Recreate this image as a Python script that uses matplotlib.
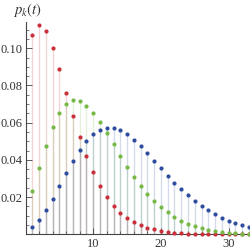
import numpy as np
import matplotlib
matplotlib.use("Agg")
import matplotlib.pyplot as plt
from matplotlib.ticker import MultipleLocator

plt.rcParams['mathtext.fontset'] = 'stix'

k = np.arange(1, 34)

p_red = [0.1070, 0.1123, 0.1091, 0.1003, 0.0889, 0.0762, 0.0638, 0.0523, 0.0421, 0.0332,
         0.0261, 0.0199, 0.0152, 0.0116, 0.0087, 0.0065, 0.0048, 0.0036, 0.0026, 0.0018,
         0.0012, 0.0009, 0.0006, 0.0004, 0.0003, 0.0002, 0.00015, 0.0001, 0.00007, 0.00005,
         0.00003, 0.00002, 0.00001]
p_green = [0.0233, 0.0358, 0.0476, 0.0575, 0.0652, 0.0700, 0.0720, 0.0717, 0.0691, 0.0652,
           0.0601, 0.0543, 0.0483, 0.0422, 0.0362, 0.0308, 0.0260, 0.0218, 0.0181, 0.0147,
           0.0119, 0.0094, 0.0072, 0.0056, 0.0042, 0.0032, 0.0023, 0.0016, 0.0012, 0.0009,
           0.0006, 0.0004, 0.0003]
p_blue = [0.0037, 0.0077, 0.0129, 0.0191, 0.0258, 0.0328, 0.0394, 0.0453, 0.0502, 0.0539,
          0.0562, 0.0573, 0.0571, 0.0559, 0.0539, 0.0509, 0.0476, 0.0437, 0.0396, 0.0356,
          0.0314, 0.0278, 0.0243, 0.0211, 0.0181, 0.0152, 0.0129, 0.0107, 0.0089, 0.0073,
          0.0061, 0.0050, 0.0041]

series = [(p_red, '#c9303a'), (p_green, '#76b947'), (p_blue, '#2e4d9e')]

fig = plt.figure(figsize=(2.5, 2.5), dpi=100)
ax = fig.add_axes([0.102, 0.063, 0.898, 0.849])

# stems first, points on top
for vals, col in series:
    ax.vlines(k, 0, vals, color=col, alpha=0.2, lw=1.0, zorder=1)
for vals, col in series:
    ax.plot(k, vals, 'o', color=col, ms=3.0, mec='none', zorder=3, clip_on=False)

ax.set_xlim(0, 33.16)
ax.set_ylim(0, 0.1141)

for s in ['top', 'right']:
    ax.spines[s].set_visible(False)
for s in ['left', 'bottom']:
    ax.spines[s].set_color('#444444')
    ax.spines[s].set_linewidth(0.8)

ax.xaxis.set_minor_locator(MultipleLocator(2))
ax.yaxis.set_minor_locator(MultipleLocator(0.005))
ax.set_xticks([10, 20, 30])
ax.set_yticks([0.02, 0.04, 0.06, 0.08, 0.10])
ax.set_yticklabels(['0.02', '0.04', '0.06', '0.08', '0.10'])

ax.tick_params(which='major', direction='in', length=4, width=0.6, color='#444444',
               labelsize=9, pad=2.5)
ax.tick_params(which='minor', direction='in', length=2, width=0.5, color='#444444')
for lab in ax.get_xticklabels() + ax.get_yticklabels():
    lab.set_family('Liberation Serif')
    lab.set_color('#333333')

fig.text(0.052, 0.96, r'$p_k(t)$', fontsize=10.5, color='#333333', va='center', ha='left')

fig.savefig('out.png', dpi=100)
